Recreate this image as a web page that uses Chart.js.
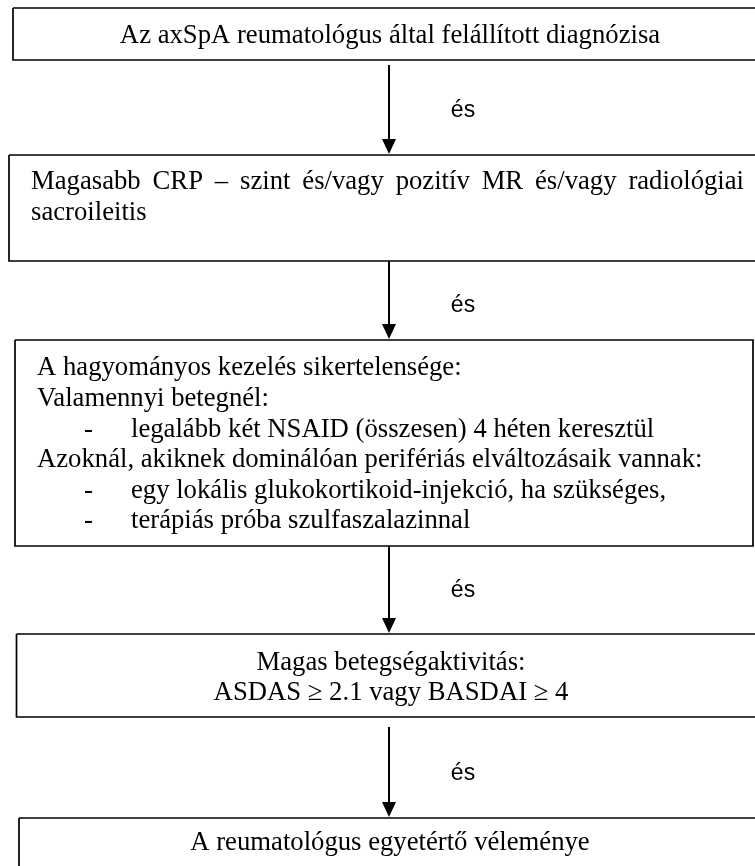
<!DOCTYPE html>
<html>
<head>
<meta charset="utf-8">
<script src="https://cdn.jsdelivr.net/npm/chart.js@4.4.1/dist/chart.umd.min.js"></script>
<style>
html,body{margin:0;padding:0;background:#fff;}
canvas{display:block;}
</style>
</head>
<body>
<canvas id="c" width="755" height="866"></canvas>
<script>
// ---- flowchart data (in image units) ----
const boxLeft   = [13, 9, 15, 16.5, 19];
const boxRight  = [760, 760, 753, 760, 760];
const boxTop    = [8, 155, 340, 634, 818];
const boxBottom = [60, 261, 546, 717, 880];

const arrowX     = [389, 389, 389, 389];
const arrowStart = [65, 261, 546, 727];
const arrowEnd   = [154, 339, 633, 817];

const connectorLabel = "és";
const connectorX = [463, 463, 463, 463];
const connectorY = [117, 312, 597, 780];

// text lines: [text, x, baseline y, align]
const box1Lines = [["Az axSpA reumatológus által felállított diagnózisa", 390, 43, "center"]];
const box2Justified = ["Magasabb CRP – szint és/vagy pozitív MR és/vagy radiológiai", 31, 744, 189];
const box2Lines = [["sacroileitis", 31, 220, "left"]];
const box3Lines = [
  ["A hagyományos kezelés sikertelensége:", 37, 375, "left"],
  ["Valamennyi betegnél:", 37, 406, "left"],
  ["-", 84, 437, "left"],
  ["legalább két NSAID (összesen) 4 héten keresztül", 131, 437, "left"],
  ["Azoknál, akiknek dominálóan perifériás elváltozásaik vannak:", 37, 467, "left"],
  ["-", 84, 498, "left"],
  ["egy lokális glukokortikoid-injekció, ha szükséges,", 131, 498, "left"],
  ["-", 84, 528, "left"],
  ["terápiás próba szulfaszalazinnal", 131, 528, "left"]
];
const box4Lines = [
  ["Magas betegségaktivitás:", 391, 670, "center"],
  ["ASDAS \u2265 2.1 vagy BASDAI \u2265 4", 391, 700, "center"]
];
const box5Lines = [["A reumatológus egyetértő véleménye", 390, 850, "center"]];

const SERIF = '26.7px "Liberation Serif", "Times New Roman", serif';
const SANS = '23px "Liberation Sans", Arial, sans-serif';

// ---- datasets built from the arrays ----
const datasets = [];
for (let i = 0; i < boxLeft.length; i++) {
  datasets.push({
    data: [
      {x: boxLeft[i], y: boxTop[i]},
      {x: boxRight[i], y: boxTop[i]},
      {x: boxRight[i], y: boxBottom[i]},
      {x: boxLeft[i], y: boxBottom[i]},
      {x: boxLeft[i], y: boxTop[i]}
    ],
    showLine: true, borderColor: '#000', borderWidth: 1.7,
    pointRadius: 0, fill: false, tension: 0, borderJoinStyle: 'miter'
  });
}
const HEAD_H = 15;
for (let i = 0; i < arrowX.length; i++) {
  datasets.push({
    data: [{x: arrowX[i], y: arrowStart[i]}, {x: arrowX[i], y: arrowEnd[i] - HEAD_H + 1}],
    showLine: true, borderColor: '#000', borderWidth: 2,
    pointRadius: 0, fill: false
  });
}

const flowText = {
  id: 'flowText',
  afterDatasetsDraw(chart) {
    const ctx = chart.ctx;
    const xs = chart.scales.x, ys = chart.scales.y;
    const px = v => xs.getPixelForValue(v);
    const py = v => ys.getPixelForValue(v);
    ctx.save();
    // arrowheads
    ctx.fillStyle = '#000';
    for (let i = 0; i < arrowX.length; i++) {
      const x = px(arrowX[i]), tip = py(arrowEnd[i]);
      const base = py(arrowEnd[i] - HEAD_H);
      const hw = Math.abs(px(arrowX[i] + 7) - x);
      ctx.beginPath();
      ctx.moveTo(x, tip);
      ctx.lineTo(x - hw, base);
      ctx.lineTo(x + hw, base);
      ctx.closePath();
      ctx.fill();
    }
    // connector labels
    ctx.font = SANS;
    ctx.textAlign = 'center';
    ctx.textBaseline = 'alphabetic';
    for (let i = 0; i < connectorX.length; i++) {
      ctx.fillText(connectorLabel, px(connectorX[i]), py(connectorY[i]));
    }
    // box texts
    ctx.font = SERIF;
    const all = [].concat(box1Lines, box2Lines, box3Lines, box4Lines, box5Lines);
    for (const [t, x, y, a] of all) {
      ctx.textAlign = a;
      ctx.fillText(t, px(x), py(y));
    }
    // justified line
    const [jt, jl, jr, jy] = box2Justified;
    const words = jt.split(' ');
    ctx.textAlign = 'left';
    const widths = words.map(w => ctx.measureText(w).width);
    const total = widths.reduce((a, b) => a + b, 0);
    const gap = (px(jr) - px(jl) - total) / (words.length - 1);
    let cx = px(jl);
    words.forEach((w, k) => { ctx.fillText(w, cx, py(jy)); cx += widths[k] + gap; });
    ctx.restore();
  }
};

new Chart(document.getElementById('c'), {
  type: 'scatter',
  data: { datasets },
  options: {
    responsive: false,
    devicePixelRatio: 1,
    animation: false,
    layout: { padding: 0 },
    plugins: { legend: { display: false }, tooltip: { enabled: false } },
    scales: {
      x: { type: 'linear', min: 0, max: 755, display: false },
      y: { type: 'linear', min: 0, max: 866, reverse: true, display: false }
    }
  },
  plugins: [flowText]
});
</script>
</body>
</html>
